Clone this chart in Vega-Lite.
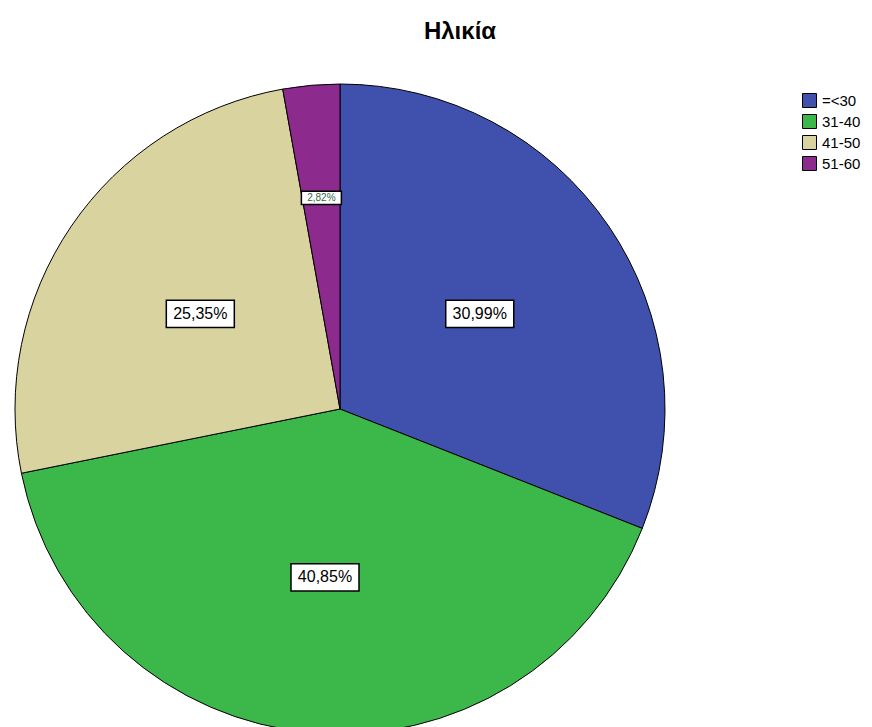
{
  "$schema": "https://vega.github.io/schema/vega-lite/v6.json",
  "width": 680,
  "height": 698,
  "autosize": {"type": "none"},
  "padding": {"left": 0, "top": 60, "right": 192, "bottom": 0},
  "background": "white",
  "title": {
    "text": "Ηλικία",
    "anchor": "middle",
    "frame": "group",
    "dx": 120,
    "offset": -3,
    "baseline": "alphabetic",
    "fontSize": 24,
    "font": "Liberation Sans",
    "fontWeight": "bold",
    "color": "black"
  },
  "config": {
    "view": {"stroke": null},
    "locale": {"number": {"decimal": ",", "thousands": ".", "grouping": [3], "currency": ["", "€"]}}
  },
  "data": {
    "values": [
      {"group": "=<30", "pct": 30.99, "order": 1},
      {"group": "31-40", "pct": 40.85, "order": 2},
      {"group": "41-50", "pct": 25.35, "order": 3},
      {"group": "51-60", "pct": 2.82, "order": 4}
    ]
  },
  "transform": [
    {"window": [{"op": "sum", "field": "pct", "as": "cum"}], "sort": [{"field": "order", "order": "ascending"}], "frame": [null, 0]},
    {"calculate": "2 * PI * (datum.cum - datum.pct / 2) / 100", "as": "mid"},
    {"calculate": "datum.pct < 5 ? 212 : 169", "as": "r"},
    {"calculate": "datum.r * sin(datum.mid)", "as": "px"},
    {"calculate": "datum.r * cos(datum.mid)", "as": "py"},
    {"calculate": "datum.pct / 100", "as": "frac"}
  ],
  "layer": [
    {
      "mark": {"type": "arc", "radius": 325, "stroke": "black", "strokeWidth": 1},
      "encoding": {
        "theta": {"field": "pct", "type": "quantitative", "stack": true},
        "order": {"field": "order", "type": "quantitative"},
        "color": {
          "field": "group",
          "type": "nominal",
          "scale": {"domain": ["=<30", "31-40", "41-50", "51-60"], "range": ["#3f51ad", "#3cb84b", "#d9d3a0", "#8c2a8e"]},
          "legend": {
            "orient": "none",
            "legendX": 802,
            "legendY": 33,
            "title": null,
            "symbolType": "square",
            "symbolSize": 196,
            "symbolStrokeColor": "black",
            "symbolStrokeWidth": 1,
            "symbolOpacity": 1,
            "labelFontSize": 15,
            "labelFont": "Liberation Sans",
            "labelColor": "black",
            "rowPadding": 2,
            "labelOffset": 5,
            "padding": 0
          }
        }
      }
    },
    {
      "mark": {"type": "point", "filled": true, "fill": "white", "stroke": "black", "strokeWidth": 1.5, "opacity": 1, "fillOpacity": 1, "strokeOpacity": 1},
      "encoding": {
        "x": {"field": "px", "type": "quantitative", "scale": {"domain": [-340, 340], "nice": false, "zero": false}, "axis": null},
        "y": {"field": "py", "type": "quantitative", "scale": {"domain": [-349, 349], "nice": false, "zero": false}, "axis": null},
        "shape": {"condition": {"test": "datum.pct < 5", "value": "M-1,-0.33H1V0.33H-1Z"}, "value": "M-1,-0.4H1V0.4H-1Z"},
        "size": {"condition": {"test": "datum.pct < 5", "value": 1600}, "value": 4624}
      }
    },
    {
      "mark": {"type": "text", "font": "Liberation Sans", "align": "center", "baseline": "middle"},
      "encoding": {
        "x": {"field": "px", "type": "quantitative"},
        "y": {"field": "py", "type": "quantitative"},
        "text": {"field": "frac", "type": "quantitative", "format": ".2%"},
        "size": {"condition": {"test": "datum.pct < 5", "value": 10}, "value": 16},
        "color": {"condition": {"test": "datum.pct < 5", "value": "#2e6b3e"}, "value": "black"}
      }
    }
  ]
}
